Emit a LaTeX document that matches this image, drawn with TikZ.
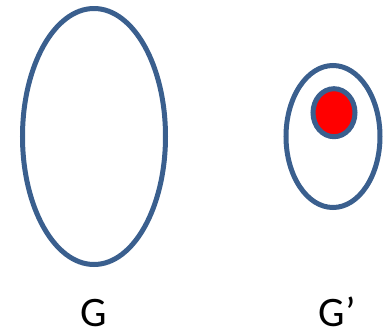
\documentclass[tikz,border=0pt]{standalone}
\usepackage{fontspec}
\setmainfont{Carlito}
\definecolor{setblue}{HTML}{3A5F8E}
\begin{document}
\begin{tikzpicture}[x=1pt,y=-1pt,
  setring/.style={draw=setblue,line width=5pt},
  lbl/.style={font=\fontsize{42}{48}\selectfont,anchor=base,inner sep=0pt}]
\useasboundingbox (0,0) rectangle (384,330);
\draw[setring] (94,136.5) ellipse [x radius=71.5, y radius=128];
\draw[setring] (333,136.5) ellipse [x radius=47, y radius=71];
\draw[setring,fill=red] (334,112.7) ellipse [x radius=21, y radius=24];
\node[lbl] (g) at (94,326) {G};
\node[lbl] (gp) at (337,326) {G’};
\end{tikzpicture}
\end{document}
